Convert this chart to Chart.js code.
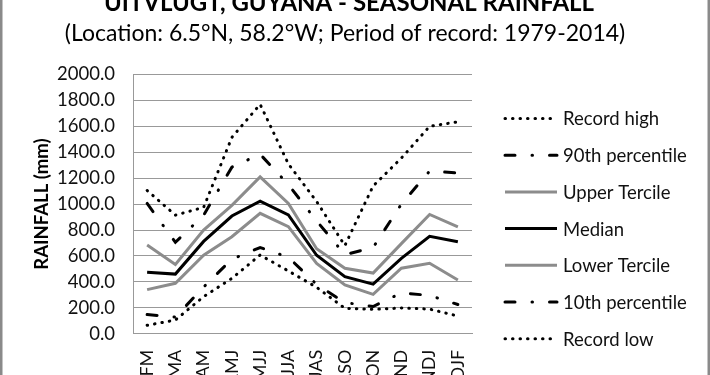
<!DOCTYPE html>
<html>
<head>
<meta charset="utf-8">
<title>Uitvlugt seasonal rainfall</title>
<script src="https://cdn.jsdelivr.net/npm/chart.js@4.4.1/dist/chart.umd.min.js"></script>
<style>
  html, body { margin: 0; padding: 0; background: #fff; }
  #wrap { width: 710px; height: 375px; }
</style>
</head>
<body>
<div id="wrap"><canvas id="rainChart" width="710" height="375"></canvas></div>
<script>
// Dados do gráfico (mm)
const seasons = ['JFM', 'FMA', 'MAM', 'AMJ', 'MJJ', 'JJA', 'JAS', 'ASO', 'SON', 'OND', 'NDJ', 'DJF'];
const recordHigh   = [1105, 915, 975, 1515, 1770, 1310, 1020, 680, 1140, 1355, 1600, 1635];
const pct90        = [1005, 705, 915, 1285, 1385, 1150, 870, 610, 665, 1000, 1255, 1240];
const upperTercile = [685, 535, 800, 990, 1210, 1005, 655, 505, 468, 695, 920, 825];
const median       = [475, 460, 712, 908, 1022, 916, 605, 440, 382, 582, 752, 710];
const lowerTercile = [340, 389, 605, 748, 929, 826, 543, 376, 304, 505, 543, 414];
const pct10        = [148, 128, 360, 575, 665, 590, 380, 240, 210, 315, 295, 225];
const recordLow    = [65, 105, 286, 427, 607, 484, 358, 196, 188, 198, 190, 136];
const yTicks = [0, 200, 400, 600, 800, 1000, 1200, 1400, 1600, 1800, 2000];

const titleText = 'UITVLUGT, GUYANA - SEASONAL RAINFALL';
const subtitleText = '(Location: 6.5°N, 58.2°W; Period of record: 1979-2014)';

const FONT = 'Lato';
const GREY = '#8c8c8c';
const dotted = [0.5, 7];
const dashDot = [10, 17, 0.5, 17];

function serie(label, data, color, dash) {
    return {
        label: label,
        data: data,
        borderColor: color,
        backgroundColor: color,
        borderWidth: 3,
        borderDash: dash || [],
        borderCapStyle: dash ? 'round' : 'butt',
        pointRadius: 0,
        tension: 0,
        fill: false
    };
}

// Títulos e moldura
const titlesPlugin = {
    id: 'titles',
    afterDraw(chart) {
        const ctx = chart.ctx;
        ctx.save();
        ctx.fillStyle = '#000';
        ctx.textAlign = 'center';
        ctx.textBaseline = 'alphabetic';
        ctx.font = 'bold 24px ' + FONT;
        ctx.fillText(titleText, 349, 10.5);
        ctx.font = '23px ' + FONT;
        ctx.fillText(subtitleText, 345, 41);
        ctx.strokeStyle = '#8a8a8a';
        ctx.lineWidth = 2.5;
        ctx.strokeRect(1.25, -5, 707.5, 390);
        ctx.restore();
    }
};

// Legenda à direita
const legendPlugin = {
    id: 'sideLegend',
    afterDraw(chart) {
        const ctx = chart.ctx;
        ctx.save();
        chart.data.datasets.forEach((ds, i) => {
            const y = 118.5 + i * 36.7;
            ctx.beginPath();
            ctx.strokeStyle = ds.borderColor;
            ctx.lineWidth = ds.borderWidth;
            ctx.lineCap = ds.borderCapStyle;
            ctx.setLineDash(ds.borderDash);
            ctx.moveTo(505, y);
            ctx.lineTo(557, y);
            ctx.stroke();
            ctx.setLineDash([]);
            ctx.fillStyle = '#111';
            ctx.font = '18.5px ' + FONT;
            ctx.textAlign = 'left';
            ctx.textBaseline = 'middle';
            ctx.fillText(ds.label, 563, y + 1);
        });
        ctx.restore();
    }
};

new Chart(document.getElementById('rainChart'), {
    type: 'line',
    data: {
        labels: seasons,
        datasets: [
            serie('Record high', recordHigh, '#000', dotted),
            serie('90th percentile', pct90, '#000', dashDot),
            serie('Upper Tercile', upperTercile, GREY),
            serie('Median', median, '#000'),
            serie('Lower Tercile', lowerTercile, GREY),
            serie('10th percentile', pct10, '#000', dashDot),
            serie('Record low', recordLow, '#000', dotted)
        ]
    },
    options: {
        responsive: false,
        animation: false,
        devicePixelRatio: 1,
        layout: { padding: { top: 74.5, right: 238, bottom: 0, left: 0 } },
        plugins: {
            legend: { display: false },
            title: { display: false },
            tooltip: { enabled: false }
        },
        scales: {
            x: {
                offset: true,
                grid: { display: false },
                border: { display: true, color: '#999', width: 1 },
                ticks: {
                    color: '#111',
                    font: { family: FONT, size: 18 },
                    minRotation: 90,
                    maxRotation: 90,
                    padding: 8,
                    autoSkip: false
                },
                afterFit(scale) { scale.height = 41.3; }
            },
            y: {
                min: 0,
                max: 2000,
                afterBuildTicks(scale) { scale.ticks = yTicks.map(v => ({ value: v })); },
                grid: { color: '#999', lineWidth: 1, drawTicks: false },
                border: { display: true, color: '#999', width: 1 },
                ticks: {
                    color: '#111',
                    font: { family: FONT, size: 18.5 },
                    padding: 18,
                    callback: v => Number(v).toFixed(1)
                },
                title: {
                    display: true,
                    text: 'RAINFALL (mm)',
                    color: '#000',
                    font: { family: FONT, size: 18.5, weight: 'bold' },
                    padding: { top: 31, bottom: 0 }
                },
                afterFit(scale) { scale.width = 133; }
            }
        }
    },
    plugins: [titlesPlugin, legendPlugin]
});
</script>
</body>
</html>
